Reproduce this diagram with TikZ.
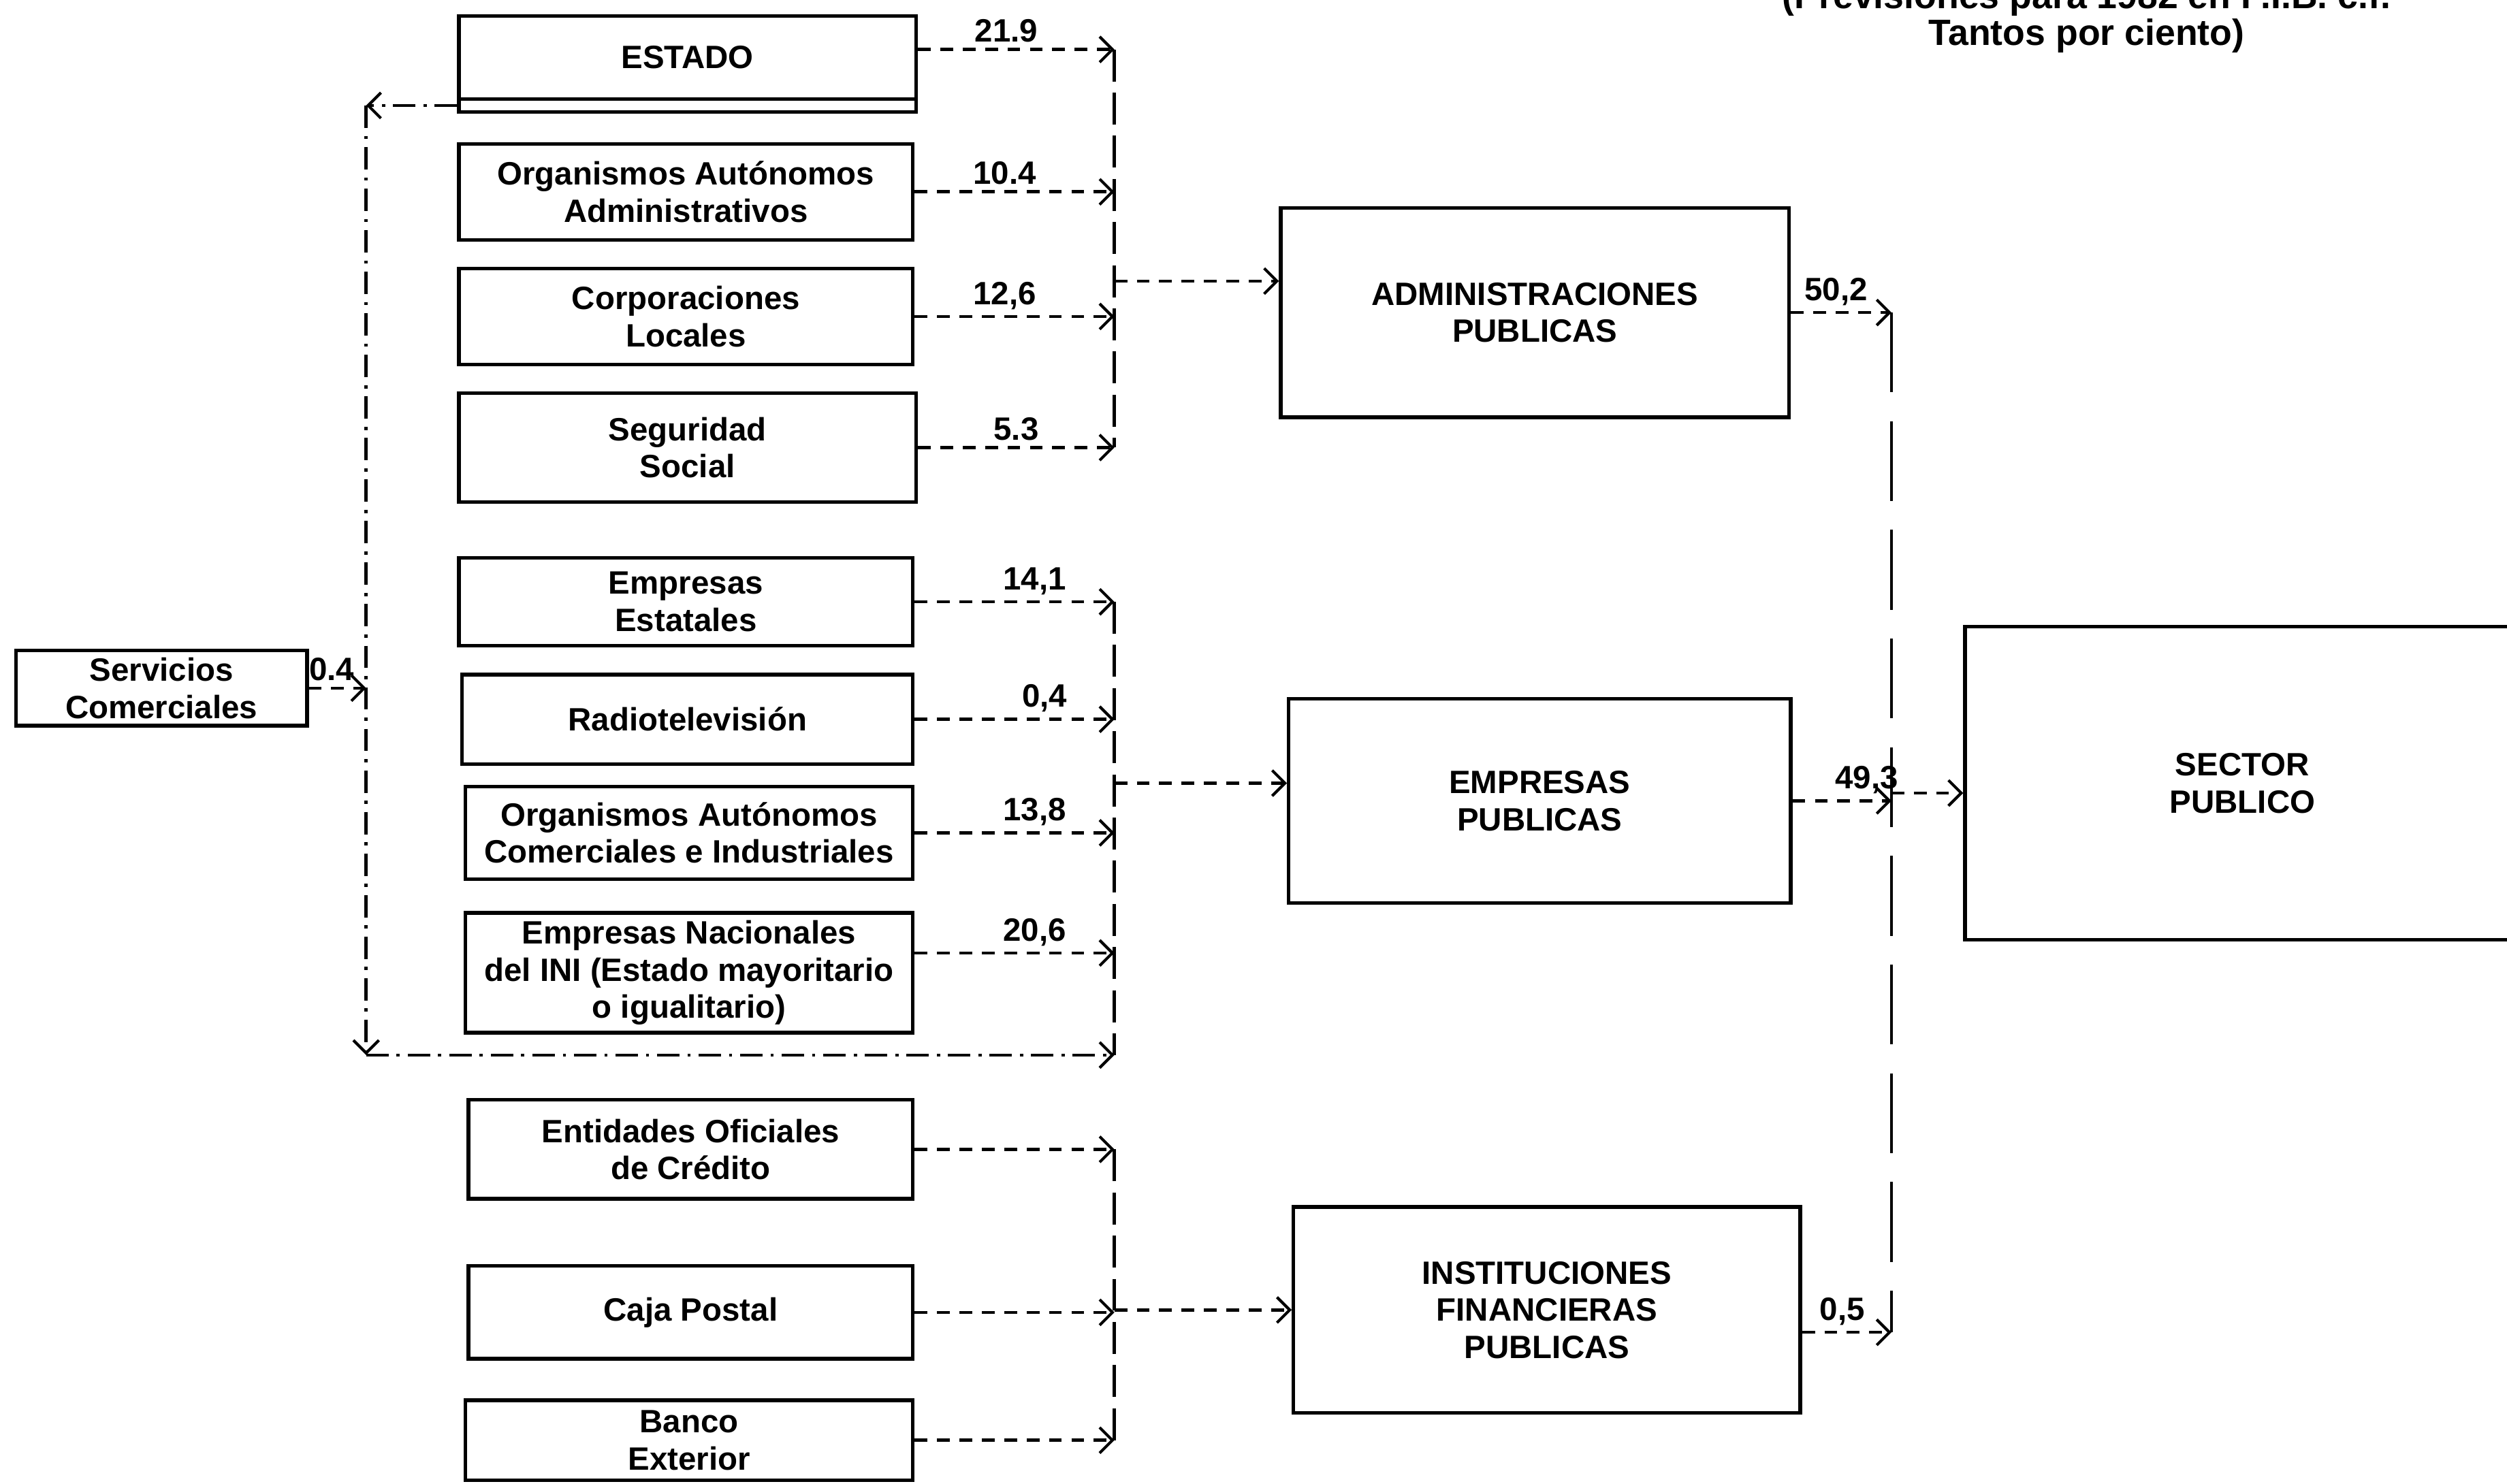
\documentclass[tikz,border=0pt]{standalone}
\usepackage{fontspec}
\setmainfont{Liberation Sans}
\usetikzlibrary{arrows.meta}

\begin{document}
\begin{tikzpicture}[x=0.02cm, y=-0.02cm,
    box/.style={draw, line width=1.3pt, align=center, inner sep=0pt,
                font=\bfseries\fontsize{11.5}{13.2}\selectfont},
    num/.style={above, inner sep=2pt, font=\bfseries\fontsize{11.5}{13.2}\selectfont},
    tip/.style={-{Straight Barb[length=1.6mm, width=3.2mm, line width=1pt]}},
    flow/.style={tip, line width=1.1pt, dash pattern=on 0.16cm off 0.12cm},
    bus/.style={line width=1.1pt, dash pattern=on 0.4cm off 0.14cm},
    longbus/.style={line width=1.2pt, dash pattern=on 1cm off 0.36cm},
    back/.style={tip, line width=1.1pt, dash pattern=on 0.28cm off 0.1cm on 0.04cm off 0.1cm}]
  \useasboundingbox (0,0) rectangle (1568,928);

  \node[font=\bfseries\fontsize{13}{13.1}\selectfont, align=center] (note) at (1305,11)
       {(Previsiones para 1982 en P.I.B. c.f.\\Tantos por ciento)};

  \node[box, minimum width=5.72cm, minimum height=1.04cm] (estado) at (430,36) {ESTADO};
  \node[box, minimum width=5.72cm, minimum height=0.16cm] (estadob) at (430,66) {};
  \node[box, minimum width=5.68cm, minimum height=1.2cm] (oaa) at (429,120) {Organismos Autónomos\\Administrativos};
  \node[box, minimum width=5.68cm, minimum height=1.2cm] (cl) at (429,198) {Corporaciones\\Locales};
  \node[box, minimum width=5.72cm, minimum height=1.36cm] (ss) at (430,280) {Seguridad\\Social};
  \node[box, minimum width=5.68cm, minimum height=1.1cm] (ee) at (429,376.5) {Empresas\\Estatales};
  \node[box, minimum width=5.64cm, minimum height=1.12cm] (rtv) at (430,450) {Radiotelevisión};
  \node[box, minimum width=5.6cm, minimum height=1.16cm] (oaci) at (431,521) {Organismos Autónomos\\Comerciales e Industriales};
  \node[box, minimum width=5.6cm, minimum height=1.5cm] (ini) at (431,608.5) {Empresas Nacionales\\del INI (Estado mayoritario\\o igualitario)};
  \node[box, minimum width=5.56cm, minimum height=1.24cm] (eoc) at (432,719) {Entidades Oficiales\\de Crédito};
  \node[box, minimum width=5.56cm, minimum height=1.16cm] (cp) at (432,821) {Caja Postal};
  \node[box, minimum width=5.6cm, minimum height=1cm] (be) at (431,901) {Banco\\Exterior};
  \node[box, minimum width=3.64cm, minimum height=0.94cm] (sc) at (101,430.5) {Servicios\\Comerciales};

  \node[box, minimum width=6.36cm, minimum height=2.62cm] (ap) at (960,195.5) {ADMINISTRACIONES\\PUBLICAS};
  \node[box, minimum width=6.28cm, minimum height=2.56cm] (ep) at (963,501) {EMPRESAS\\PUBLICAS};
  \node[box, minimum width=6.34cm, minimum height=2.58cm] (ifp) at (967.5,819.5) {INSTITUCIONES\\FINANCIERAS\\PUBLICAS};
  \node[box, minimum width=6.94cm, minimum height=3.92cm] (sp) at (1402.5,490) {SECTOR\\PUBLICO};

  \coordinate (busa) at (697,0);
  \coordinate (busr) at (1183,0);
  \coordinate (backx) at (229,0);
  \coordinate (backa) at (estadob.west -| backx);
  \coordinate (backb) at (229,660);
  \coordinate (backc) at (697,660);

  \draw[flow] (estado.2) -- (estado.2 -| busa) node[num, pos=.45] {21.9};
  \draw[flow] (oaa.east) -- (oaa.east -| busa) node[num, pos=.45] {10.4};
  \draw[flow] (cl.east) -- (cl.east -| busa) node[num, pos=.45] {12,6};
  \draw[flow] (ss.east) -- (ss.east -| busa) node[num, pos=.5] {5.3};
  \draw[bus] (estado.2 -| busa) -- (ss.east -| busa);
  \draw[flow] (ap.173 -| busa) -- (ap.173);

  \draw[flow] (ee.east) -- (ee.east -| busa) node[num, pos=.6] {14,1};
  \draw[flow] (rtv.east) -- (rtv.east -| busa) node[num, pos=.65] {0,4};
  \draw[flow] (oaci.east) -- (oaci.east -| busa) node[num, pos=.6] {13,8};
  \draw[flow] (ini.5) -- (ini.5 -| busa) node[num, pos=.6] {20,6};
  \draw[bus] (ee.east -| busa) -- (backc);
  \draw[flow] (ep.176 -| busa) -- (ep.176);

  \draw[flow] (eoc.east) -- (eoc.east -| busa);
  \draw[flow] (cp.east) -- (cp.east -| busa);
  \draw[flow] (be.east) -- (be.east -| busa);
  \draw[bus] (eoc.east -| busa) -- (be.east -| busa);
  \draw[flow] (ifp.west -| busa) -- (ifp.west);

  \draw[back] (estadob.west) -- (backa);
  \draw[back] (backa) -- (backb);
  \draw[back] (backb) -- (backc);
  \draw[flow] (sc.east) -- (sc.east -| backx) node[num, pos=.4] {0.4};

  \draw[flow] (ap.east) -- (ap.east -| busr) node[num, pos=.45] {50,2};
  \draw[flow] (ep.east) -- (ep.east -| busr) node[num, pos=.75] {49,3};
  \draw[flow] (ifp.355) -- (ifp.355 -| busr) node[num, pos=.45] {0,5};
  \draw[longbus] (ap.east -| busr) -- (ifp.355 -| busr);
  \draw[flow] (sp.182 -| busr) -- (sp.182);
\end{tikzpicture}
\end{document}
